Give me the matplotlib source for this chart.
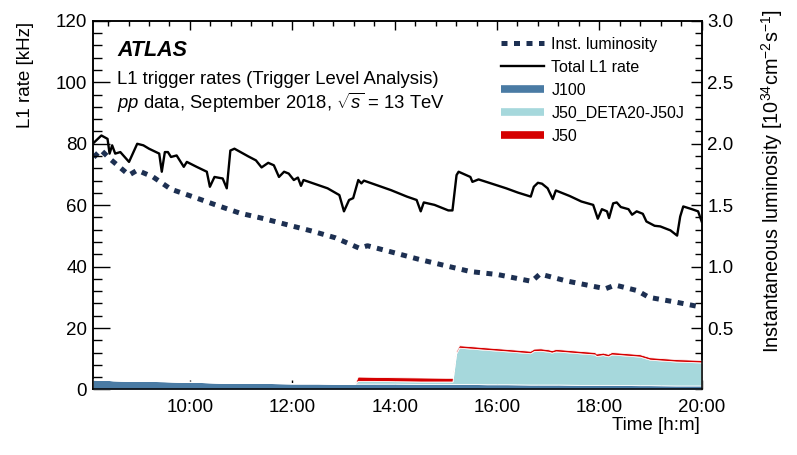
import matplotlib
matplotlib.use('Agg')
from matplotlib import pyplot as plt
from matplotlib.lines import Line2D
from matplotlib.ticker import MultipleLocator, FixedLocator, FuncFormatter

# Total L1 rate [kHz] vs time (decimal hours)
rate_time = [8.10, 8.27, 8.39, 8.43, 8.48, 8.54, 8.64, 8.81, 8.97, 9.09, 9.20, 9.40, 9.45, 9.51,
             9.57, 9.63, 9.74, 9.88, 9.94, 10.13, 10.33, 10.39, 10.48, 10.64, 10.72, 10.79, 10.87,
             11.14, 11.29, 11.40, 11.53, 11.64, 11.74, 11.84, 11.93, 12.03, 12.11, 12.17, 12.22,
             12.69, 12.92, 13.01, 13.11, 13.19, 13.29, 13.35, 13.40, 13.93, 14.24, 14.43, 14.51,
             14.57, 14.78, 15.05, 15.13, 15.21, 15.25, 15.48, 15.52, 15.64, 15.79, 16.18, 16.41,
             16.66, 16.72, 16.80, 16.88, 16.99, 17.09, 17.15, 17.42, 17.65, 17.88, 17.97, 18.05,
             18.15, 18.19, 18.27, 18.34, 18.42, 18.57, 18.64, 18.73, 18.85, 18.92, 19.08, 19.19,
             19.39, 19.52, 19.58, 19.64, 19.81, 19.93, 20.0]
rate_total = [80.0, 82.7, 81.6, 76.8, 79.5, 76.8, 77.3, 74.1, 80.0, 79.5, 78.4, 76.8, 70.9, 77.3,
              77.3, 75.7, 76.2, 72.5, 74.1, 72.5, 70.9, 66.0, 69.2, 68.7, 65.5, 77.8, 78.4,
              75.9, 74.6, 72.3, 73.8, 73.0, 69.2, 70.9, 70.3, 68.2, 69.0, 66.3, 68.2,
              65.5, 63.3, 58.0, 61.7, 62.3, 68.2, 67.1, 68.0, 64.9, 62.8, 61.7, 58.0,
              60.9, 60.1, 58.3, 58.3, 69.8, 70.9, 69.2, 67.6, 68.4, 67.6, 65.5, 64.1,
              62.8, 66.0, 67.3, 67.0, 65.5, 62.0, 64.8, 63.0, 61.2, 60.1, 55.6, 58.7,
              58.0, 55.8, 60.6, 60.9, 59.4, 58.7, 56.9, 58.0, 57.2, 54.7, 53.3, 53.1,
              51.8, 50.1, 56.3, 59.6, 58.7, 58.0, 54.7]

# Instantaneous luminosity [10^34 cm^-2 s^-1]
lumi_time = [8.12, 8.26, 8.43, 8.81, 8.97, 9.28, 9.63, 10.05, 10.52, 10.98, 11.45, 11.91, 12.38,
             12.84, 13.31, 13.47, 13.93, 14.47, 15.02, 15.48, 16.02, 16.68, 16.84, 17.34, 18.12,
             18.31, 18.74, 18.97, 19.51, 20.0]
lumi = [1.89, 1.95, 1.88, 1.745, 1.785, 1.73, 1.63, 1.57, 1.50, 1.435, 1.39, 1.34, 1.29,
        1.235, 1.15, 1.17, 1.12, 1.06, 1.005, 0.96, 0.935, 0.88, 0.94, 0.885, 0.82,
        0.85, 0.805, 0.75, 0.71, 0.67]

# Stacked trigger rates [kHz]
stack_time = [8.10, 8.5, 9.0, 9.5, 10.0, 10.5, 11.0, 11.5, 12.0, 12.5, 13.0, 13.22, 13.28, 13.6,
              14.0, 14.5, 15.0, 15.13, 15.20, 15.26, 15.5, 15.8, 16.2, 16.65, 16.72, 16.85, 17.0,
              17.07, 17.15, 17.23, 17.6, 17.91, 17.94, 18.07, 18.17, 18.24, 18.79, 18.99, 19.5, 20.0]
j100 = [3.3, 3.0, 2.8, 2.7, 2.5, 2.3, 2.1, 2.1, 2.0, 2.0, 1.9, 1.9, 1.9, 1.9,
        1.9, 1.8, 1.8, 1.8, 1.8, 1.8, 1.8, 1.7, 1.7, 1.6, 1.6, 1.6, 1.6,
        1.6, 1.6, 1.6, 1.5, 1.5, 1.5, 1.5, 1.5, 1.5, 1.4, 1.4, 1.3, 1.3]
j50_deta = [0, 0, 0, 0, 0, 0, 0, 0, 0, 0, 0, 0, 0.9, 0.9,
            0.8, 0.8, 0.8, 0.8, 9.9, 11.8, 11.5, 11.2, 10.7, 10.2, 10.9, 11.0, 10.7,
            10.4, 10.8, 10.7, 10.3, 9.9, 9.4, 9.7, 9.3, 9.9, 9.3, 8.3, 7.8, 7.5]
j50 = [0, 0, 0, 0, 0, 0, 0, 0, 0, 0, 0, 0, 1.4, 1.3,
       1.3, 1.3, 1.2, 1.2, 0.8, 0.8, 0.8, 0.8, 0.8, 0.8, 0.8, 0.8, 0.8,
       0.8, 0.8, 0.8, 0.8, 0.8, 0.8, 0.8, 0.8, 0.8, 0.8, 0.8, 0.8, 0.8]

x_ticks = [10, 12, 14, 16, 18, 20]

plt.rcParams['font.family'] = ['Liberation Sans', 'DejaVu Sans']
plt.rcParams['mathtext.fontset'] = 'custom'
plt.rcParams['mathtext.rm'] = 'Liberation Sans'
plt.rcParams['mathtext.it'] = 'Liberation Sans:italic'

fig = plt.figure(figsize=(7.97, 4.55), dpi=100)
ax = fig.add_axes([0.1163, 0.144, 0.7641, 0.810])
ax2 = ax.twinx()

c_j100 = '#4a7ba4'
c_deta = '#a6d8dc'
c_j50 = '#d50000'
c_lumi = '#1d3052'

ax.stackplot(stack_time, j100, j50_deta, j50, colors=[c_j100, c_deta, c_j50],
             edgecolor='white', linewidth=0.6, zorder=2)
ax.plot(rate_time, rate_total, color='black', lw=1.7, zorder=4)
ax2.plot(lumi_time, lumi, color=c_lumi, lw=3.6, linestyle=(0, (1.2, 1.3)))

ax.set_xlim(8.10, 20.0)
ax.set_ylim(0, 120)
ax2.set_ylim(0, 3.0)

# axis ticks, ROOT style (inward, on both sides)
ax.xaxis.set_major_locator(FixedLocator(x_ticks))
ax.xaxis.set_minor_locator(MultipleLocator(0.4))
ax.xaxis.set_major_formatter(FuncFormatter(lambda v, p: '%d:00' % round(v)))
ax.yaxis.set_major_locator(MultipleLocator(20))
ax.yaxis.set_minor_locator(MultipleLocator(4))
ax.tick_params(axis='x', which='both', direction='in', top=True, labelsize=13.5, pad=7)
ax.tick_params(axis='x', which='major', length=6.5, width=1)
ax.tick_params(axis='x', which='minor', length=3.5, width=1)
ax.tick_params(axis='y', which='both', direction='in', right=False, labelsize=13.5, pad=4)
ax.tick_params(axis='y', which='major', length=12.5, width=1)
ax.tick_params(axis='y', which='minor', length=6.5, width=1)

ax2.yaxis.set_major_locator(FixedLocator([0.5, 1.0, 1.5, 2.0, 2.5, 3.0]))
ax2.yaxis.set_minor_locator(MultipleLocator(0.1))
ax2.yaxis.set_major_formatter(FuncFormatter(lambda v, p: '%.1f' % v))
ax2.tick_params(axis='y', which='both', direction='in', labelsize=13.5, pad=4)
ax2.tick_params(axis='y', which='major', length=8, width=1)
ax2.tick_params(axis='y', which='minor', length=5, width=1)

for a in (ax, ax2):
    for s in a.spines.values():
        s.set_linewidth(1.1)

ax.set_zorder(ax2.get_zorder() + 1)
ax.patch.set_visible(False)

# axis titles
fig.text(25 / 797, 1 - 22 / 455, 'L1 rate [kHz]', rotation=90, ha='center', va='top', fontsize=13.5)
fig.text(772 / 797, 1 - 9 / 455,
         'Instantaneous luminosity [10$^{34}$cm$^{-2}$s$^{-1}$]',
         rotation=90, ha='center', va='top', fontsize=14.3)
fig.text(700 / 797, 1 - 426 / 455, 'Time [h:m]', ha='right', va='center', fontsize=13.5)

# ATLAS label
fig.text(117 / 797, 1 - 56 / 455, 'ATLAS', fontsize=15.5, fontweight='bold', style='italic')
fig.text(117 / 797, 1 - 84 / 455, 'L1 trigger rates (Trigger Level Analysis)', fontsize=13.3)
fig.text(117 / 797, 1 - 109 / 455, '$pp$ data, September 2018, $\\sqrt{s}$ = 13 TeV', fontsize=13.3)

# legend
handles = [
    Line2D([], [], color=c_lumi, lw=3.6, linestyle=(0, (1.2, 1.3))),
    Line2D([], [], color='black', lw=1.7),
    Line2D([], [], color=c_j100, lw=5.5, solid_capstyle='butt'),
    Line2D([], [], color=c_deta, lw=5.5, solid_capstyle='butt'),
    Line2D([], [], color=c_j50, lw=5.5, solid_capstyle='butt'),
]
labels = ['Inst. luminosity', 'Total L1 rate', 'J100', 'J50_DETA20-J50J', 'J50']
fig.legend(handles, labels, loc='upper left', bbox_to_anchor=(501 / 797, 1 - 37 / 455),
           frameon=False, fontsize=11.5, handlelength=2.7, handletextpad=0.45,
           labelspacing=0.5, borderpad=0, borderaxespad=0)

plt.savefig('out.png', dpi=100)
